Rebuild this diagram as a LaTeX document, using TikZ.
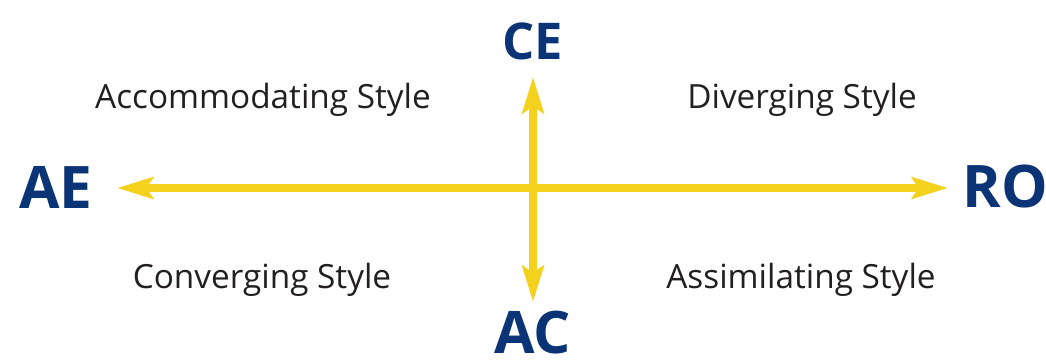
\documentclass[tikz,border=0pt]{standalone}
\usepackage{fontspec}
\setmainfont{Open Sans}
\usepackage{tikz}
\usetikzlibrary{arrows.meta}

\definecolor{axisyellow}{HTML}{F3D11C}
\definecolor{polenavy}{HTML}{0B3476}
\definecolor{stylegray}{HTML}{231F20}

\tikzset{
  pole/.style={color=polenavy,font=\bfseries\fontsize{44}{44}\selectfont,inner sep=0pt},
  quadrant/.style={color=stylegray,font=\fontsize{25}{26}\selectfont,inner sep=0pt},
  axis/.style={color=axisyellow,line width=6pt,
    {Stealth[length=27pt,width=16pt,inset=5pt]}-{Stealth[length=27pt,width=16pt,inset=5pt]}}
}

\begin{document}
\begin{tikzpicture}[x=0.75pt,y=-0.75pt]
  \useasboundingbox (0,0) rectangle (1046,362);

  % the four poles
  \node[pole,font=\bfseries\fontsize{38}{38}\selectfont] (ce) at (533,41) {CE};
  \node[pole] (ac) at (533,333) {AC};
  \node[pole] (ae) at (56,187) {AE};
  \node[pole] (ro) at (1005,187) {RO};

  % axes
  \coordinate (top) at (533,77);
  \coordinate (bottom) at (533,302);
  \coordinate (left) at (117,188);
  \coordinate (right) at (948,188);
  \draw[axis] (left) -- (right);
  \draw[axis] (top) -- (bottom);

  % the styles in each quadrant
  \node[quadrant] (acc) at (263,100) {Accommodating Style};
  \node[quadrant] (div) at (802,100) {Diverging Style};
  \node[quadrant] (con) at (262,280) {Converging Style};
  \node[quadrant] (ass) at (801,280) {Assimilating Style};
\end{tikzpicture}
\end{document}
